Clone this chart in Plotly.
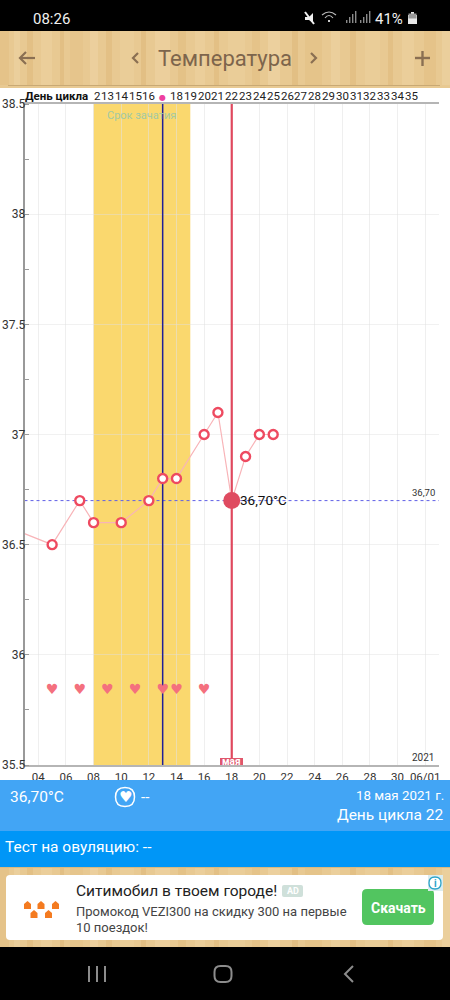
import plotly.graph_objects as go

# ---- data ----
temp_days = [3, 5, 7, 8, 10, 12, 13, 14, 16, 17, 18, 19, 20, 21]
temp_vals = [36.55, 36.5, 36.7, 36.6, 36.6, 36.7, 36.8, 36.8, 37.0, 37.1, 36.7, 36.9, 37.0, 37.0]
heart_days = [5, 7, 9, 11, 13, 14, 16]
heart_level = 35.84
fertile_start = 8
fertile_end = 15
ovulation_day = 13
selected_day = 18
selected_temp = 36.7
x_range = [3, 33]
y_range = [35.5, 38.5]
x_tick_vals = [4, 6, 8, 10, 12, 14, 16, 18, 20, 22, 24, 26, 28, 30, 32]
x_tick_text = ["04", "06", "08", "10", "12", "14", "16", "18", "20", "22", "24", "26", "28", "30", "06/01"]
y_tick_vals = [35.5, 36, 36.5, 37, 37.5, 38, 38.5]
y_tick_text = ["35.5", "36", "36.5", "37", "37.5", "38", "38.5"]
cycle_dates = [9, 10, 11, 12, 14, 15, 16, 17, 18, 19, 20, 21, 22, 23, 24, 25, 26, 27, 28, 29, 30, 31]
cycle_labels = ["13", "14", "15", "16", "18", "19", "20", "21", "22", "23", "24", "25", "26", "27",
                "28", "29", "30", "31", "32", "33", "34", "35"]

W, H = 450, 1000
FONT = "Roboto"
PX = lambda x: x / W
PY = lambda y: 1 - y / H

shapes = []
ann = []


def rect(x0, y0, x1, y1, color, layer="above"):
    shapes.append(dict(type="rect", xref="paper", yref="paper", x0=PX(x0), x1=PX(x1), y0=PY(y0), y1=PY(y1),
                       fillcolor=color, line_width=0, layer=layer))


def path(points_d, color=None, line=None, width=0):
    s = ""
    for tok in points_d:
        if isinstance(tok, str):
            s += tok + " "
        else:
            s += f"{PX(tok[0]):.5f},{PY(tok[1]):.5f} "
    shapes.append(dict(type="path", xref="paper", yref="paper", path=s, fillcolor=color or "rgba(0,0,0,0)",
                       line=dict(color=line or "rgba(0,0,0,0)", width=width), layer="above"))


def rrect(x0, y0, x1, y1, r, color=None, line=None, width=0):
    path(["M", (x0 + r, y0), "L", (x1 - r, y0), "Q", (x1, y0), (x1, y0 + r), "L", (x1, y1 - r), "Q", (x1, y1), (x1 - r, y1),
          "L", (x0 + r, y1), "Q", (x0, y1), (x0, y1 - r), "L", (x0, y0 + r), "Q", (x0, y0), (x0 + r, y0), "Z"],
         color, line, width)


def text(x, y, s, size, color, anchor="left", family=FONT, bold=False, bg=None):
    ann.append(dict(xref="paper", yref="paper", x=PX(x), y=PY(y), text=f"<b>{s}</b>" if bold else s, showarrow=False,
                    xanchor=anchor, yanchor="middle", font=dict(size=size, color=color, family=family),
                    bgcolor=bg, borderpad=0, borderwidth=0))


# ---- status bar ----
rect(0, 0, W, 31, "#000000")
text(33, 19, "08:26", 15, "#f0f0f0")
text(375, 19, "41%", 15, "#f0f0f0")
rect(408, 15, 417, 24, "#e8e8e8")
rect(411, 12, 414, 15, "#e8e8e8")
rect(408.5, 13.5, 416.5, 18.5, "#999999")
path(["M", (305, 12), "L", (314, 24)], None, "#f0f0f0", 2)
path(["M", (305, 17), "L", (309, 17), "L", (313, 13), "L", (313, 23), "L", (309, 20), "L", (305, 20), "Z"], "#f0f0f0")
path(["M", (322, 15), "Q", (329, 9), (336, 15)], None, "#bbbbbb", 1.2)
path(["M", (325, 18), "Q", (329, 13), (333, 18)], None, "#bbbbbb", 1.2)
rect(328, 20, 330, 22, "#cccccc")
for bx, bh in [(346, 3), (349, 6), (352, 9), (355, 12), (360, 3), (363, 6), (366, 9), (369, 12)]:
    rect(bx, 23 - bh, bx + 1.4, 23, "#8a8a8a")

# ---- wood bands ----
wood_base = "#e8c992"
rect(0, 31, W, 88, wood_base)
rect(0, 867, W, 947, wood_base)
stripes = [(0, 9, "#e5c389"), (14, 20, "#ebcf9c"), (27, 33, "#e3c085"), (41, 52, "#ebce9a"), (60, 64, "#e2bf84"),
           (70, 83, "#e6c58c"), (90, 98, "#eccf9d"), (106, 112, "#e3c085"), (120, 134, "#eacd98"), (141, 146, "#e2bf84"),
           (155, 170, "#eccf9c"), (178, 186, "#e4c287"), (195, 205, "#ebce9a"), (214, 219, "#e3c085"), (228, 245, "#eacd98"),
           (252, 260, "#e5c389"), (268, 280, "#ecd09e"), (292, 298, "#e2bf84"), (305, 322, "#e5c48a"), (331, 340, "#ebcf9c"),
           (350, 356, "#e3c085"), (365, 380, "#eacd98"), (388, 393, "#e3c085"), (402, 414, "#ebce9a"), (424, 436, "#e5c389"),
           (442, 450, "#ebcf9c")]
for a, b, c in stripes:
    rect(a, 31, b, 85, c)
    rect(a, 867, b, 947, c)
rect(8, 85, 440, 86, "#c9a974")
rect(0, 867, W, 868, "#d9b981")

# header icons
brown = "#8a6f52"
path(["M", (20, 58), "L", (35, 58)], None, brown, 2.2)
path(["M", (26, 52), "L", (20, 58), "L", (26, 64)], None, brown, 2.2)
path(["M", (138, 53), "L", (133, 58), "L", (138, 63)], None, brown, 2.2)
path(["M", (311, 53), "L", (316, 58), "L", (311, 63)], None, brown, 2.2)
path(["M", (415, 58), "L", (430, 58)], None, brown, 2.4)
path(["M", (422.5, 51), "L", (422.5, 66)], None, brown, 2.4)
text(225, 58, "Температура", 22, "#7d654c", "center")

# ---- lower blue bands ----
rect(0, 780, W, 831, "#42a5f5")
rect(0, 831, W, 867, "#0096f7")
text(10, 797, "36,70°C", 15.5, "#ffffff")
path(["M", (115.5, 797), "Q", (115.5, 787.5), (125, 787.5), "Q", (134.5, 787.5), (134.5, 797), "Q", (134.5, 806.5), (125, 806.5),
      "Q", (115.5, 806.5), (115.5, 797), "Z"], None, "#ffffff", 1.5)
text(125, 797, "♥", 15, "#ffffff", "center", "DejaVu Sans")
text(141, 797, "--", 15, "#ffffff")
text(444, 795, "18 мая 2021 г.", 13.3, "#ffffff", "right")
text(444, 815, "День цикла 22", 15.5, "#ffffff", "right")
text(5, 847, "Тест на овуляцию: --", 15.5, "#ffffff")

# ---- ad card ----
rrect(6, 875, 443, 940, 4, "#ffffff")
text(76, 891, "Ситимобил в твоем городе!", 15.5, "#222222")
rrect(282, 885, 303, 897, 2, "#cfe0da")
text(292.5, 891, "AD", 9, "#ffffff", "center", bold=True)
text(76, 911, "Промокод VEZI300 на скидку 300 на первые", 13, "#444444")
text(76, 927, "10 поездок!", 13, "#444444")
rrect(362, 889, 434, 925, 5, "#52c560")
text(398, 908, "Скачать", 14, "#ffffff", "center", bold=True)
rect(428, 875, 443, 891, "#dcecef")
path(["M", (429, 883), "Q", (429, 877), (435, 877), "Q", (441, 877), (441, 883), "Q", (441, 889), (435, 889), "Q", (429, 889), (429, 883), "Z"],
     "#ffffff", "#2ba3c9", 1.3)
text(435, 883, "i", 10, "#2ba3c9", "center", bold=True)
for cx, cy in [(27.5, 905), (41, 905), (55.5, 905), (34, 914), (48.5, 914)]:
    path(["M", (cx - 3.5, cy - 1), "L", (cx, cy - 4), "L", (cx + 3.5, cy - 1), "L", (cx + 3.5, cy + 4), "L", (cx - 3.5, cy + 4), "Z"],
         "#f47b20")

# ---- nav bar ----
rect(0, 947, W, H, "#000000")
for nx in (89, 97, 105):
    rect(nx - 1, 966, nx + 1, 982, "#8c8c8c")
rrect(214.5, 966, 231.5, 982, 6, None, "#8c8c8c", 2)
path(["M", (353, 966), "L", (345, 974), "L", (353, 982)], None, "#8c8c8c", 2)

# ---- chart furniture ----
shapes.append(dict(type="rect", xref="x", yref="paper", x0=fertile_start, x1=fertile_end, y0=PY(765), y1=PY(104),
                   fillcolor="#fad86e", line_width=0, layer="below"))
shapes.append(dict(type="rect", xref="paper", yref="paper", x0=PX(220), x1=PX(243), y0=PY(765), y1=PY(758),
                   fillcolor="#e0566c", line_width=0, layer="above"))

# cycle-day row
text(97, 96, "2", 11.5, "#222222", "center")
for d, s in zip(cycle_dates, cycle_labels):
    ann.append(dict(xref="x", yref="paper", x=d, y=PY(96), text=s, showarrow=False, xanchor="center", yanchor="middle",
                    font=dict(size=11.5, color="#222222", family=FONT)))
text(25, 96, "День цикла", 11.5, "#111111", bold=True)
ann.append(dict(xref="x", yref="paper", x=ovulation_day, y=PY(98), text="●", showarrow=False, xanchor="center",
                yanchor="middle", font=dict(size=8, color="#ee3fa0", family="DejaVu Sans")))
ann.append(dict(xref="x", yref="paper", x=fertile_start + 3.5, y=PY(116), text="Срок зачатия", showarrow=False,
                xanchor="center", yanchor="middle", font=dict(size=11, color="#a3c9a4", family=FONT)))
text(423, 492, "36,70", 9.5, "#333333", "center")
text(423, 757, "2021", 10, "#333333", "center")
text(231.5, 761.5, "мая", 10, "#ffffff", "center", bold=True)
text(240, 500, "36,70°C", 13.5, "#111111")

fig = go.Figure()
fig.add_trace(go.Scatter(x=x_range, y=[selected_temp, selected_temp], mode="lines",
                         line=dict(color="#5f5fe6", width=1, dash="dot"), showlegend=False))
fig.add_trace(go.Scatter(x=[ovulation_day, ovulation_day], y=y_range, mode="lines",
                         line=dict(color="#1f1f98", width=1.5), showlegend=False))
fig.add_trace(go.Scatter(x=[selected_day, selected_day], y=y_range, mode="lines",
                         line=dict(color="#e0485e", width=2.2), showlegend=False))
fig.add_trace(go.Scatter(x=temp_days, y=temp_vals, mode="lines", line=dict(color="#f8b4b8", width=1.2),
                         hoverinfo="skip", showlegend=False))
fig.add_trace(go.Scatter(x=[d for d in temp_days if d not in (3, selected_day)],
                         y=[v for d, v in zip(temp_days, temp_vals) if d not in (3, selected_day)],
                         mode="markers", marker=dict(size=9, color="#ffffff", line=dict(color="#ee4a60", width=2.4)),
                         showlegend=False))
fig.add_trace(go.Scatter(x=[selected_day], y=[selected_temp], mode="markers",
                         marker=dict(size=17, color="#df4b60"), showlegend=False))
fig.add_trace(go.Scatter(x=heart_days, y=[heart_level] * len(heart_days), mode="text", text=["♥"] * len(heart_days),
                         textposition="middle center", textfont=dict(size=14, color="#f4707e", family="DejaVu Sans"),
                         showlegend=False))

fig.update_layout(
    width=W, height=H, autosize=False, margin=dict(l=0, r=0, t=0, b=0, pad=0, autoexpand=False), paper_bgcolor="#ffffff",
    plot_bgcolor="rgba(0,0,0,0)", showlegend=False, shapes=shapes, annotations=ann, hovermode=False,
    xaxis=dict(domain=[PX(24.5), PX(439)], range=x_range, tickvals=x_tick_vals, ticktext=x_tick_text, tickangle=0,
               automargin=False, showgrid=True, gridcolor="rgba(225,225,225,0.55)", gridwidth=1, zeroline=False, ticks="", ticklen=0,
               tickfont=dict(size=11.5, color="#333333", family=FONT),
               showline=True, linecolor="#b5b5b5", linewidth=1.5, mirror=True, fixedrange=True),
    yaxis=dict(domain=[PY(765), PY(104)], range=y_range, tickvals=y_tick_vals, ticktext=y_tick_text,
               automargin=False, showgrid=True, gridcolor="rgba(225,225,225,0.45)", gridwidth=1, zeroline=False, ticks="",
               tickfont=dict(size=12, color="#333333", family=FONT),
               showline=True, linecolor="#999999", linewidth=1.5, fixedrange=True,
               ticklabelstandoff=-5,
               minor=dict(dtick=0.25, tick0=35.5, ticks="inside", ticklen=5, tickcolor="#999999", showgrid=False)),
)

fig.write_html("out.html", config=dict(displayModeBar=False),
               post_script="var s=document.createElement('style');s.textContent='html,body{margin:0!important;padding:0!important;overflow:hidden}';document.head.appendChild(s);")
